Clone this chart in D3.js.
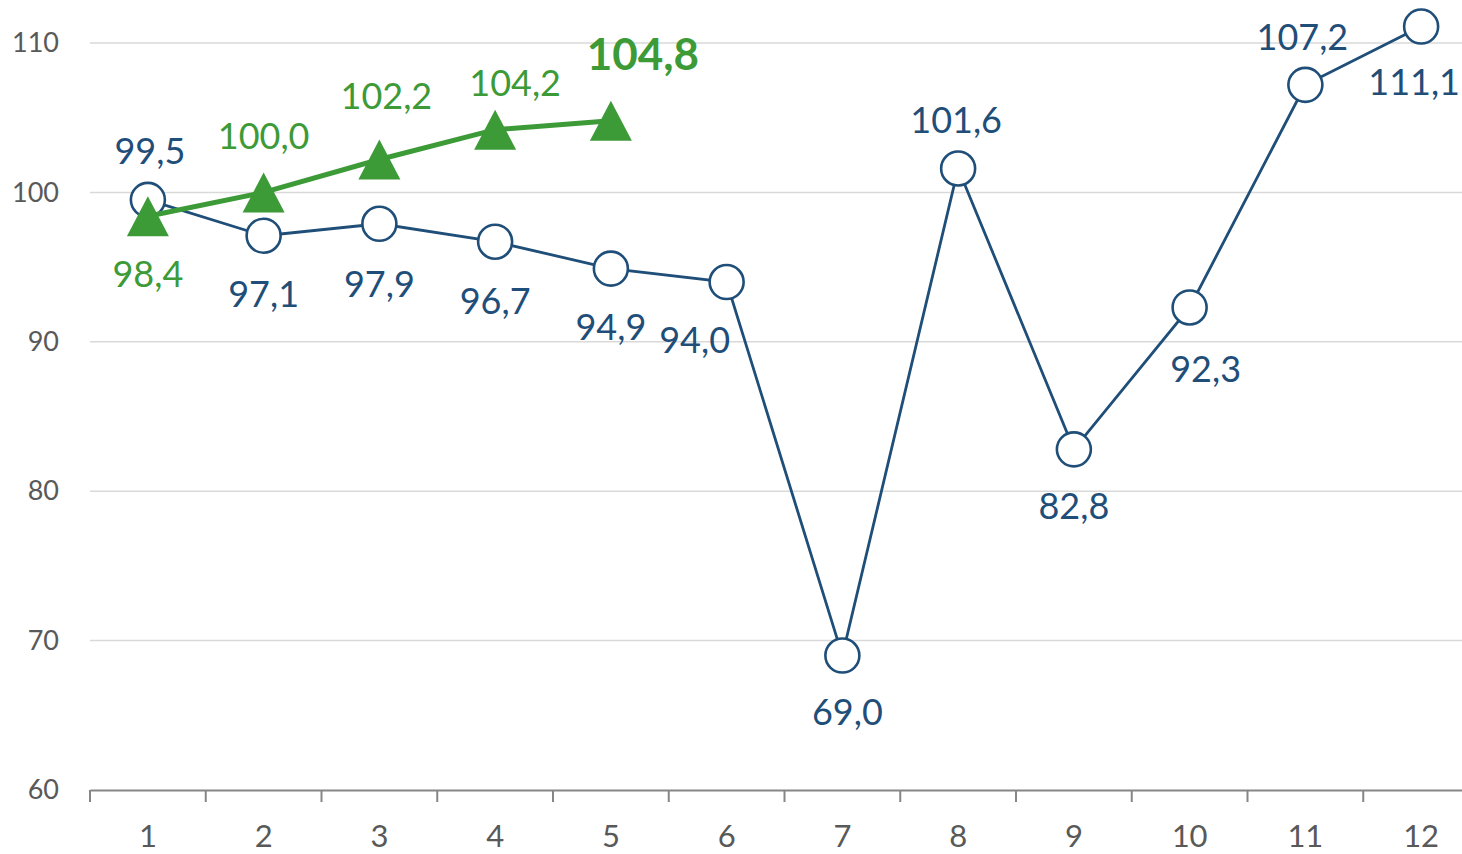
<!DOCTYPE html>
<html>
<head>
<meta charset="utf-8">
<script src="https://cdn.jsdelivr.net/npm/d3@7"></script>
<style>
  body { margin: 0; background: #fff; }
  svg { display: block; font-family: Lato, "Open Sans", sans-serif; }
</style>
</head>
<body>
<div class="chart"></div>
<script>
// Data
const months = ["1", "2", "3", "4", "5", "6", "7", "8", "9", "10", "11", "12"];
const blueValues = [99.5, 97.1, 97.9, 96.7, 94.9, 94.0, 69.0, 101.6, 82.8, 92.3, 107.2, 111.1];
const greenValues = [98.4, 100.0, 102.2, 104.2, 104.8];
const yTicks = [60, 70, 80, 90, 100, 110];

// label nudges (dx, dy) from the point, like the hand-placed labels in the original
const blueLabelOffset = [[2, -50], [0, 57], [0, 59], [0, 58], [0, 57], [-32, 57], [5, 55], [-2, -49], [0, 56], [16, 61], [-3, -49], [-7, 54]];
const greenLabelOffset = [[0, 57], [0, -57], [7, -65], [20, -48], [32, -68]];

const blue = "#1f4e79";
const green = "#3c9a37";

const W = 1462, H = 854;
const margin = { top: 43, right: 0, bottom: 64, left: 90 };

const svg = d3.select(".chart").append("svg")
    .attr("width", W)
    .attr("height", H);

// band runs a bit past the right edge, as in the cropped original
const x = d3.scaleBand()
    .domain(months)
    .range([margin.left, margin.left + 12 * 115.75]);

const y = d3.scaleLinear()
    .domain([60, 110])
    .range([H - margin.bottom, margin.top]);

const cx = d => x(d) + x.bandwidth() / 2;

// gridlines
svg.append("g")
    .selectAll("line")
    .data(yTicks.filter(t => t > 60))
    .enter()
    .append("line")
    .attr("x1", margin.left)
    .attr("x2", W)
    .attr("y1", d => y(d))
    .attr("y2", d => y(d))
    .attr("stroke", "#d9d9d9")
    .attr("stroke-width", 1.5);

// y axis labels
const yAxis = svg.append("g")
    .attr("transform", `translate(${margin.left},0)`)
    .call(d3.axisLeft(y).tickValues(yTicks).tickSize(0).tickPadding(31));
yAxis.select(".domain").remove();
yAxis.selectAll("text")
    .style("font-size", "27px")
    .style("font-family", "Lato, sans-serif")
    .attr("fill", "#595959");

// x axis
const xAxis = svg.append("g")
    .attr("transform", `translate(0,${y(60)})`)
    .call(d3.axisBottom(x).tickSizeInner(0).tickSizeOuter(0).tickPadding(35));
xAxis.select(".domain")
    .attr("stroke", "#868686")
    .attr("stroke-width", 2);
xAxis.selectAll("text")
    .style("font-size", "31px")
    .style("font-family", "Lato, sans-serif")
    .attr("fill", "#595959");

// category boundary ticks
svg.append("g")
    .selectAll("line")
    .data(months)
    .enter()
    .append("line")
    .attr("x1", d => x(d))
    .attr("x2", d => x(d))
    .attr("y1", y(60))
    .attr("y2", y(60) + 12)
    .attr("stroke", "#868686")
    .attr("stroke-width", 2);

// blue series
const seriesLine = d3.line()
    .x((d, i) => cx(months[i]))
    .y(d => y(d));

svg.append("path")
    .datum(blueValues)
    .attr("d", seriesLine)
    .attr("fill", "none")
    .attr("stroke", blue)
    .attr("stroke-width", 2.8);

svg.append("g")
    .selectAll("circle")
    .data(blueValues)
    .enter()
    .append("circle")
    .attr("cx", (d, i) => cx(months[i]))
    .attr("cy", d => y(d))
    .attr("r", 17)
    .attr("fill", "#fff")
    .attr("stroke", blue)
    .attr("stroke-width", 2.6);

// green series
svg.append("path")
    .datum(greenValues)
    .attr("d", seriesLine)
    .attr("fill", "none")
    .attr("stroke", green)
    .attr("stroke-width", 5);

svg.append("g")
    .selectAll("path")
    .data(greenValues)
    .enter()
    .append("path")
    .attr("transform", (d, i) => `translate(${cx(months[i])},${y(d)})`)
    .attr("d", "M0,-20L21,20L-21,20Z")
    .attr("fill", green);

// labels
const fmt = v => v.toFixed(1).replace(".", ",");

svg.append("g")
    .selectAll("text")
    .data(blueValues)
    .enter()
    .append("text")
    .attr("x", (d, i) => cx(months[i]) + blueLabelOffset[i][0])
    .attr("y", (d, i) => y(d) + blueLabelOffset[i][1])
    .attr("text-anchor", "middle")
    .attr("dominant-baseline", "central")
    .attr("fill", blue)
    .style("font-size", "36px")
    .text(fmt);

svg.append("g")
    .selectAll("text")
    .data(greenValues)
    .enter()
    .append("text")
    .attr("x", (d, i) => cx(months[i]) + greenLabelOffset[i][0])
    .attr("y", (d, i) => y(d) + greenLabelOffset[i][1])
    .attr("text-anchor", "middle")
    .attr("dominant-baseline", "central")
    .attr("fill", green)
    .style("font-size", (d, i) => i === greenValues.length - 1 ? "44px" : "36px")
    .style("font-weight", (d, i) => i === greenValues.length - 1 ? "bold" : "normal")
    .text(fmt);
</script>
</body>
</html>
